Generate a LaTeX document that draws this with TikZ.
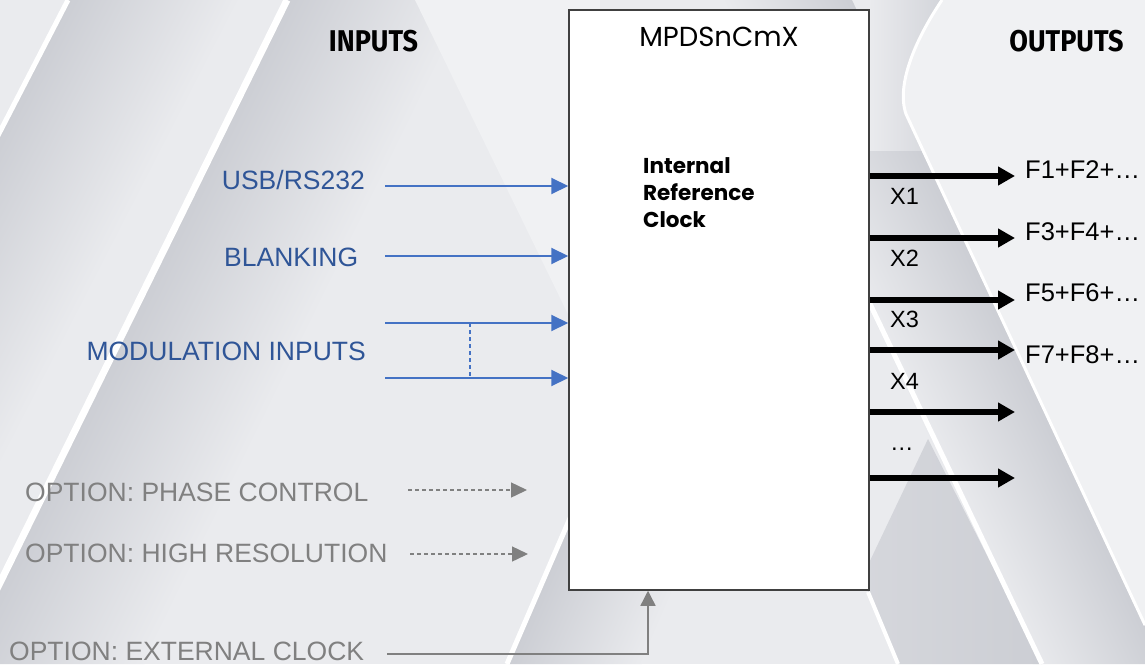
\documentclass[tikz,border=0pt]{standalone}
\usepackage{fontspec}
\setmainfont{Liberation Sans}
\newfontfamily\popfont{Poppins}
\newfontfamily\hdfont[FakeStretch=0.9]{Fira Sans}
\usetikzlibrary{arrows.meta}
\definecolor{bgc}{RGB}{234,235,238}
\definecolor{shd}{RGB}{204,206,212}
\definecolor{lgt}{RGB}{240,241,243}
\definecolor{txtblue}{RGB}{47,85,151}
\definecolor{arrblue}{RGB}{68,114,196}
\definecolor{optgray}{RGB}{128,128,128}
\definecolor{boxedge}{RGB}{64,64,64}
\begin{document}
\begin{tikzpicture}[x=1pt,y=-1pt,
  lbl/.style={inner sep=0pt, font=\fontsize{26.5}{30}\selectfont},
  inlbl/.style={lbl, text=txtblue},
  optlbl/.style={lbl, text=optgray},
  outlbl/.style={inner sep=0pt, font=\fontsize{23.5}{27}\selectfont, anchor=base west},
  flbl/.style={inner sep=0pt, font=\fontsize{25.5}{29}\selectfont, anchor=base west},
  head/.style={inner sep=0pt, font=\hdfont\bfseries\fontsize{30}{34}\selectfont, anchor=base},
  bluearrow/.style={draw=arrblue, line width=2pt, -{Triangle[length=17pt,width=16pt]}},
  optarrow/.style={draw=optgray, line width=1.4pt, dash pattern=on 4pt off 3pt, -{Triangle[length=16pt,width=15pt]}},
  extarrow/.style={draw=optgray, line width=1.4pt, -{Triangle[length=15pt,width=15pt]}},
  outarrow/.style={draw=black, line width=6pt, -{Triangle[length=17pt,width=18pt]}},
  stripe/.style={draw=white, line width=5pt},
]
\useasboundingbox (0,0) rectangle (1145,664);
% ---------- background ----------
\begin{scope}
\clip (0,0) rectangle (1145,664);
\fill[bgc] (0,0) rectangle (1145,664);
\begin{scope}[transform canvas={xslant=0.515}]
  \shade[left color=shd, right color=bgc] (69,0) rectangle (240,664);
\end{scope}
\begin{scope}[transform canvas={xslant=0.49}]
  \shade[left color=shd, right color=bgc] (288,0) rectangle (470,664);
\end{scope}
\fill[lgt] (415,0) -- (600,0) -- (600,380) -- cycle;
\begin{scope}[transform canvas={xslant=0.434}]
  \shade[left color=shd, right color=bgc] (797,420) rectangle (930,664);
\end{scope}
\begin{scope}[transform canvas={xslant=-0.468}]
  \shade[left color=bgc, right color=shd] (722,0) rectangle (852,664);
\end{scope}
\shade[left color=bgc, right color=shd!80!bgc] (869,0) rectangle (945,150);
\fill[lgt] (942,0) .. controls (915,40) and (896,85) .. (906,114) -- (1145,625) -- (1145,0) -- cycle;
\shade[left color=shd!70!bgc, right color=shd] (928,439) -- (1042,664) -- (898,664) -- (868,592) -- (868,565) -- cycle;
\draw[stripe] (68,0) -- (-275,664);
\draw[stripe, line width=7pt] (287,0) -- (-40,664);
\draw[stripe] (621,400) -- (507,664);
\draw[stripe] (850,262) -- (1042,664);
\draw[stripe, line width=4pt] (868,592) -- (898,664);
\draw[draw=white, line width=3pt] (942,0) .. controls (915,40) and (896,85) .. (906,114) -- (1145,625);
\end{scope}
% ---------- diagram ----------
\node[draw=boxedge, line width=1.5pt, fill=white, minimum width=300pt, minimum height=580pt, inner sep=0pt] (box) at (719,300) {};
\node[inner sep=0pt, anchor=base, font=\popfont\fontsize{27.5}{32}\selectfont] (title) at (719,46) {MPDSnCmX};
\node[inner sep=0pt, anchor=north west, align=left, font=\popfont\bfseries\fontsize{21.5}{27}\selectfont] (irc) at (643,157) {Internal\\Reference\\Clock};
\node[head] (inp) at (373.5,51) {INPUTS};
\node[head] (outp) at (1066.5,51) {OUTPUTS};
% inputs
\node[inlbl, anchor=base east] (usb) at (365,189) {USB/RS232};
\node[inlbl, anchor=base west] (blank) at (224,266) {BLANKING};
\node[inlbl, anchor=base east] (mod) at (366,360) {MODULATION INPUTS};
\node[optlbl, anchor=base west] (phase) at (25,501) {OPTION: PHASE CONTROL};
\node[optlbl, anchor=base west] (hires) at (25,562) {OPTION: HIGH RESOLUTION};
\node[optlbl, anchor=base west] (ext) at (9,660) {OPTION: EXTERNAL CLOCK};
\coordinate (cusb) at (385,186);
\coordinate (cblank) at (385,256);
\coordinate (cmod1) at (385,323);
\coordinate (cmod2) at (385,378);
\coordinate (cjoin1) at (470,323);
\coordinate (cjoin2) at (470,378);
\coordinate (cphs) at (408,490);
\coordinate (cphe) at (527,490);
\coordinate (chrs) at (410,554);
\coordinate (chre) at (528,554);
\coordinate (cext) at (387,654);
\coordinate (cextb) at (648,654);
\draw[bluearrow] (cusb) -- (cusb -| box.west);
\draw[bluearrow] (cblank) -- (cblank -| box.west);
\draw[bluearrow] (cmod1) -- (cmod1 -| box.west);
\draw[bluearrow] (cmod2) -- (cmod2 -| box.west);
\draw[draw=arrblue, line width=1.4pt, dash pattern=on 4pt off 3pt] (cjoin1) -- (cjoin2);
\draw[optarrow] (cphs) -- (cphe);
\draw[optarrow] (chrs) -- (chre);
\draw[extarrow] (cext) -- (cextb) -- (cextb |- box.south);
% outputs
\coordinate (o1) at (1015,176);
\coordinate (o2) at (1015,238);
\coordinate (o3) at (1015,300);
\coordinate (o4) at (1015,350);
\coordinate (o5) at (1015,412);
\coordinate (o6) at (1015,478);
\foreach \o in {o1,o2,o3,o4,o5,o6} {\draw[outarrow] (\o -| box.east) -- (\o);}
\node[outlbl] (x1) at (890,204) {X1};
\node[outlbl] (x2) at (890,266) {X2};
\node[outlbl] (x3) at (890,327) {X3};
\node[outlbl] (x4) at (890,389) {X4};
\node[outlbl] (xd) at (890,450) {…};
\node[flbl] (f1) at (1025,178) {F1+F2+…};
\node[flbl] (f2) at (1025,240) {F3+F4+…};
\node[flbl] (f3) at (1025,301) {F5+F6+…};
\node[flbl] (f4) at (1025,363) {F7+F8+…};
\end{tikzpicture}
\end{document}
